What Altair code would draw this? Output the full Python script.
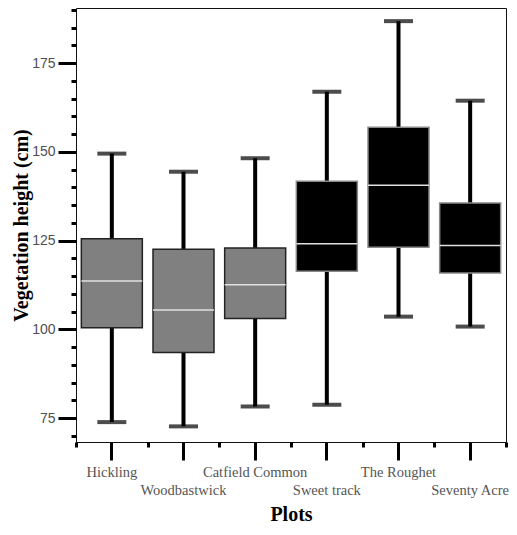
import altair as alt
import pandas as pd

categories = ["Hickling", "Woodbastwick", "Catfield Common", "Sweet track", "The Roughet", "Seventy Acre"]
whisker_low = [73.9, 72.7, 78.3, 78.8, 103.6, 100.8]
q1 = [100.5, 93.5, 103.1, 116.4, 123.1, 115.9]
median = [113.6, 105.5, 112.6, 124.1, 140.6, 123.6]
q3 = [125.5, 122.6, 122.9, 141.7, 156.9, 135.6]
whisker_high = [149.5, 144.4, 148.2, 166.9, 186.8, 164.4]
group = ["a", "a", "a", "b", "b", "b"]
lower_row = ["Woodbastwick", "Sweet track", "Seventy Acre"]
major_y = [75, 100, 125, 150, 175]
minor_y = list(range(70, 191, 5))

df = pd.DataFrame({
    "cat": categories, "low": whisker_low, "q1": q1, "med": median,
    "q3": q3, "high": whisker_high, "grp": group,
})

SERIF = "Liberation Serif"
SANS = "Liberation Sans"

xscale = alt.Scale(domain=categories, paddingInner=0, paddingOuter=0)
yscale = alt.Scale(domain=[68.3, 190.5], nice=False, zero=False)

lower_list = "[" + ",".join("'" + s + "'" for s in lower_row) + "]"
label_expr = f"indexof({lower_list}, datum.value) >= 0 ? ['', datum.label] : datum.label"

x_major = alt.Axis(
    orient="bottom",
    title="Plots", titleFont=SERIF, titleFontSize=20, titleFontWeight="bold",
    titleColor="black", titlePadding=8,
    labelFont=SERIF, labelFontSize=14.5, labelColor="#555555", labelAngle=0,
    labelExpr=label_expr, labelLineHeight=18, labelPadding=5, labelOverlap=False,
    tickSize=18, tickWidth=3, tickColor="black", domain=False, grid=False,
)
y_major = alt.Axis(
    orient="left",
    title="Vegetation height (cm)", titleFont=SERIF, titleFontSize=20,
    titleFontWeight="bold", titleColor="black", titlePadding=0,
    labelFont=SANS, labelFontSize=14, labelColor="#505050", labelPadding=3,
    values=major_y, tickSize=18, tickWidth=3, tickColor="black",
    domain=False, grid=False,
)
x_minor = alt.Axis(orient="bottom", title=None, labels=False, tickBand="extent", tickSize=5,
                   tickWidth=3, tickColor="black", domain=False, grid=False)
y_minor = alt.Axis(orient="left", title=None, labels=False, values=minor_y, tickSize=5,
                   tickWidth=3, tickColor="black", domain=False, grid=False)

base = alt.Chart(df)

whiskers = base.mark_rule(color="black", strokeWidth=4).encode(
    x=alt.X("cat:N", scale=xscale, sort=categories, axis=x_major),
    y=alt.Y("low:Q", scale=yscale, axis=y_major),
    y2="high:Q",
)
cap_low = base.mark_tick(color="black", size=29, thickness=4).encode(
    x=alt.X("cat:N", scale=xscale, sort=categories, axis=x_minor),
    y=alt.Y("low:Q", scale=yscale, axis=y_minor),
)
cap_high = base.mark_tick(color="black", size=29, thickness=4).encode(
    x=alt.X("cat:N", scale=xscale, sort=categories, axis=None),
    y=alt.Y("high:Q", scale=yscale, axis=None),
)
boxes = base.mark_bar(size=61, strokeWidth=1.5).encode(
    x=alt.X("cat:N", scale=xscale, sort=categories, axis=None),
    y=alt.Y("q1:Q", scale=yscale, axis=None),
    y2="q3:Q",
    color=alt.Color("grp:N", scale=alt.Scale(domain=["a", "b"], range=["#808080", "#000000"]), legend=None),
    stroke=alt.Stroke("grp:N", scale=alt.Scale(domain=["a", "b"], range=["#222222", "#888888"]), legend=None),
)
medians = base.mark_tick(color="#e0e0e0", size=61, thickness=1.5, opacity=1).encode(
    x=alt.X("cat:N", scale=xscale, sort=categories, axis=None),
    y=alt.Y("med:Q", scale=yscale, axis=None),
)

chart = alt.layer(whiskers, cap_low, cap_high, boxes, medians).resolve_axis(
    x="independent", y="independent"
).resolve_scale(color="independent", stroke="independent").properties(
    width=430, height=434,
    autosize=alt.AutoSizeParams(type="none"),
    padding={"left": 68, "top": 0, "right": 3, "bottom": 82},
    background="white",
).configure_view(stroke="#111111", strokeWidth=1)

chart.save("out.html", embed_options={"renderer": "svg", "actions": False})
